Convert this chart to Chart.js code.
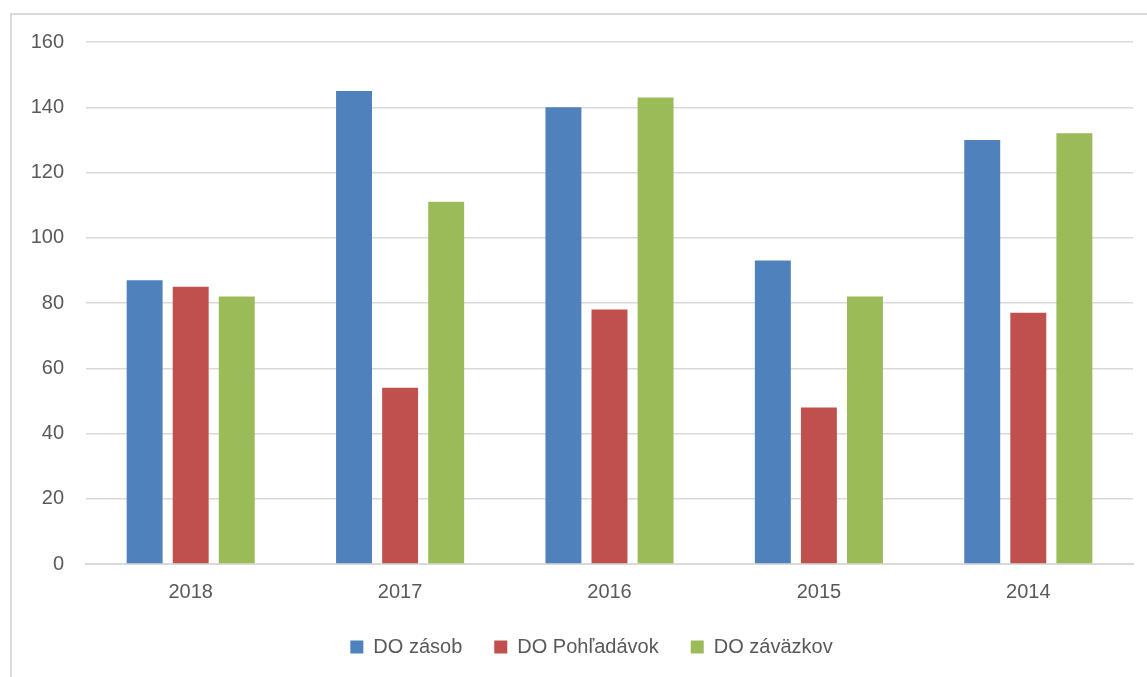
<!DOCTYPE html>
<html>
<head>
<meta charset="utf-8">
<script src="https://cdn.jsdelivr.net/npm/chart.js"></script>
<style>
    html, body { margin: 0; padding: 0; background: #fff; overflow: hidden; }
    #frame { position: absolute; left: 10px; top: 13px; width: 1150px; height: 680px; border: 2px solid #d9d9d9; box-sizing: border-box; }
    #wrap { position: absolute; left: 0; top: 0; width: 1147px; height: 677px; }
</style>
</head>
<body>
<div id="frame"></div>
<div id="wrap"><canvas id="chart"></canvas></div>
<script>
// values
let years = ['2018', '2017', '2016', '2015', '2014']
let doZasob = [87, 145, 140, 93, 130]
let doPohladavok = [85, 54, 78, 48, 77]
let doZavazkov = [82, 111, 143, 82, 132]
let yTicks = [0, 20, 40, 60, 80, 100, 120, 140, 160]

const gridColor = '#d9d9d9'
const textColor = '#595959'
const font = { family: "'Liberation Sans', Arial, sans-serif", size: 20 }

// the legend sits a bit right of the canvas centre in the original
const legendShift = {
    id: 'legendShift',
    afterLayout(chart) {
        if (chart.legend) chart.legend.left += 50;
    }
}

const ctx = document.getElementById('chart');
new Chart(ctx, {
    type: 'bar',
    data: {
        labels: years,
        datasets: [
            { label: 'DO zásob', data: doZasob, backgroundColor: '#4f81bd' },
            { label: 'DO Pohľadávok', data: doPohladavok, backgroundColor: '#c0504d' },
            { label: 'DO záväzkov', data: doZavazkov, backgroundColor: '#9bbb59' }
        ]
    },
    options: {
        responsive: true,
        maintainAspectRatio: false,
        animation: false,
        devicePixelRatio: 1,
        categoryPercentage: 0.66,
        barPercentage: 0.78,
        layout: { padding: { left: 0, right: 14, top: 42, bottom: 10 } },
        plugins: {
            tooltip: { enabled: false },
            legend: {
                position: 'bottom',
                labels: {
                    color: textColor,
                    font: font,
                    boxWidth: 13,
                    boxHeight: 13,
                    padding: 32
                }
            }
        },
        scales: {
            x: {
                grid: { display: false, drawTicks: false },
                border: { color: gridColor, width: 2 },
                ticks: { color: textColor, font: font, padding: 16 },
                afterFit: function (scale) {
                    scale.height = scale.height - 15
                }
            },
            y: {
                min: 0,
                max: 160,
                afterBuildTicks: function (scale) {
                    scale.ticks = yTicks.map(v => ({ value: v }))
                },
                afterFit: function (scale) {
                    scale.width = 86
                },
                grid: { color: gridColor, lineWidth: 1.5, drawTicks: false },
                border: { display: false },
                ticks: { color: textColor, font: font, padding: 22 }
            }
        }
    },
    plugins: [legendShift]
});
</script>
</body>
</html>
